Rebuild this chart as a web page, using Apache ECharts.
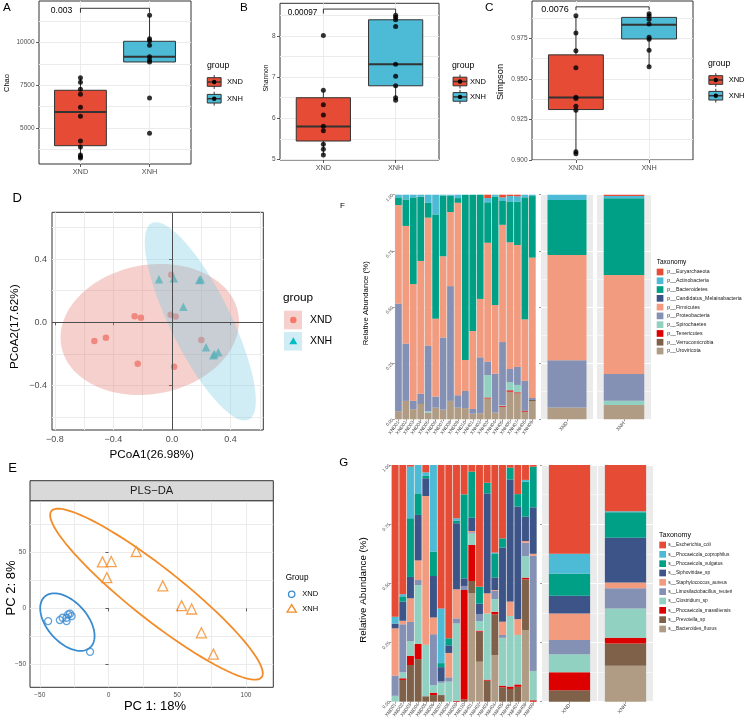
<!DOCTYPE html>
<html><head><meta charset="utf-8">
<script src="https://cdn.jsdelivr.net/npm/echarts@6/dist/echarts.min.js"></script>
<style>html,body{margin:0;padding:0;background:#fff}#c{width:744px;height:721px}</style>
</head><body><div id="c"></div>
<script>
const FONT = "'Liberation Sans', Arial, sans-serif";

// ---------------- A / B / C : alpha diversity ----------------
const GROUPS = ['XND', 'XNH'];
const GROUP_POS = [1, 2];
const GROUP_FILL = ['#E64B35', '#4DBBD5'];

const chaoPtsXND = [7949, 7679, 7269, 6976, 6214, 5687, 4240, 3888, 3419, 3320, 3243];
const chaoPtsXNH = [11605, 10234, 10117, 9848, 9180, 8986, 8869, 6760, 4690];
const chaoBoxXND = [3243, 3964, 5939, 7211, 7949];   // min, Q1, median, Q3, max
const chaoBoxXNH = [8869, 8869, 9180, 10082, 11605];
const chaoBracket = [11758, 12016];
const chaoTicks = [5000, 7500, 10000];
const chaoGridVals = [3750, 5000, 6250, 7500, 8750, 10000, 11250];

const shanPtsXND = [8.01, 6.68, 6.33, 6.08, 5.81, 5.70, 5.37, 5.25, 5.11];
const shanPtsXNH = [8.50, 8.45, 8.39, 8.23, 7.31, 7.02, 6.79, 6.50, 6.44];
const shanBoxXND = [5.11, 5.45, 5.80, 6.50, 6.68];
const shanBoxXNH = [6.44, 6.79, 7.31, 8.39, 8.50];
const shanBracket = [8.54, 8.65];
const shanTicks = [5, 6, 7, 8];
const shanGridVals = [5, 5.5, 6, 6.5, 7, 7.5, 8, 8.5];

const simpPtsXND = [0.9889, 0.9783, 0.9674, 0.9568, 0.9387, 0.9379, 0.9332, 0.9307, 0.9051, 0.9039];
const simpPtsXNH = [0.9902, 0.9887, 0.9867, 0.9838, 0.9756, 0.9744, 0.9676, 0.9574];
const simpBoxXND = [0.9039, 0.9311, 0.9385, 0.9648, 0.9889];
const simpBoxXNH = [0.9574, 0.9746, 0.9834, 0.9879, 0.9902];
const simpBracket = [0.9924, 0.9944];
const simpTicks = [0.900, 0.925, 0.950, 0.975];
const simpGridVals = [0.900, 0.9125, 0.925, 0.9375, 0.950, 0.9625, 0.975, 0.9875];

// ---------------- D : PCoA ----------------
const pcoaXND = [[-0.005, 0.302], [-0.255, 0.038], [-0.212, 0.029], [-0.530, -0.119], [-0.451, -0.098],
  [-0.234, -0.263], [0.014, -0.282], [-0.009, 0.048], [0.025, 0.036], [0.200, -0.112]];
const pcoaXNH = [[-0.089, 0.273], [0.012, 0.279], [0.186, 0.269], [0.196, 0.273], [0.077, 0.099],
  [0.232, -0.159], [0.289, -0.201], [0.316, -0.190], [0.282, -0.210]];
// ellipse: centre x, centre y, first semi-axis (dx, dy), second semi-axis (dx, dy)
const ellipseD_XND = [-0.152, -0.046, 0.603, 0.107, -0.084, 0.402];
const ellipseD_XNH = [0.193, 0.006, 0.330, -0.624, 0.186, 0.083];
const pcoaXTicks = [-0.8, -0.4, 0, 0.4];
const pcoaXGrid = [-0.8, -0.6, -0.4, -0.2, 0, 0.2, 0.4, 0.6];
const pcoaYTicks = [-0.4, 0, 0.4];
const pcoaYGrid = [-0.6, -0.4, -0.2, 0, 0.2, 0.4, 0.6];

// ---------------- E : PLS-DA ----------------
const plsXND = [[-43.9, -11.4], [-35.4, -10.5], [-33.4, -8.4], [-30.5, -8.4], [-29.3, -5.4], [-28.0, -4.8],
  [-26.8, -6.9], [-30.5, -11.4], [-13.4, -38.9]];
const plsXNH = [[-4.4, 41.6], [2.0, 41.9], [20.2, 50.9], [-1.2, 27.5], [39.5, 20.1], [53.2, 2.4],
  [60.5, -0.6], [67.6, -21.9], [76.3, -41.0]];
const ellipseE_XND = [-29.9, -12.3, 16.5, -22.8, 10.9, 12.0];
const ellipseE_XNH = [34.9, 12.7, 76.5, -74.4, 11.6, 18.1];
const plsXTicks = [-50, 0, 50, 100];
const plsXGrid = [-50, -25, 0, 25, 50, 75, 100];
const plsYTicks = [-50, 0, 50];
const plsYGrid = [-50, -25, 0, 25, 50, 75];

// ---------------- F / G : relative abundance ----------------
const SAMPLES = ['XND01','XND02','XND03','XND04','XND05','XND06','XND07','XND08','XND09','XND10',
  'XNH01','XNH02','XNH03','XNH04','XNH05','XNH06','XNH07','XNH08','XNH09'];
const TAXA_COLORS = ['#E64B35','#4DBBD5','#00A087','#3C5488','#F39B7F','#8491B4','#91D1C2','#DC0000','#7E6148','#B09C85'];
const F_TAXA = ['p__Euryarchaeota','p__Actinobacteria','p__Bacteroidetes','p__Candidatus_Melainabacteria',
  'p__Firmicutes','p__Proteobacteria','p__Spirochaetes','p__Tenericutes','p__Verrucomicrobia','p__Uroviricota'];
const fEuryarchaeota = [0,0,0,0,0,0,0,0,0,0,0,0,.015,0,.012,.006,.007,0,0];
const fActinobacteria = [.012,.021,.012,.009,.036,.088,.004,.004,.015,0,0,0,.019,.009,.016,.024,.024,.012,.006];
const fBacteroidetes = [.034,.118,.386,.286,.066,.464,.270,.073,.021,.736,.607,.464,.180,.482,.106,.182,.193,.543,.274];
const fCandidatus = [0,0,0,0,0,0,0,0,0,0,0,0,0,0,0,0,0,0,0];
const fFirmicutes = [.439,.524,.520,.591,.570,.347,.362,.330,.857,.138,.347,.260,.529,.306,.522,.564,.543,.274,.625];
const fProteobacteria = [.479,.255,.037,.043,.292,.049,.321,.511,.055,.076,.021,.249,.060,.173,.281,.059,.080,.133,.009];
const fSpirochaetes = [0,0,0,0,.006,0,0,0,0,0,0,0,.100,0,.003,.036,.033,0,0];
const fTenericutes = [0,0,0,0,0,0,0,0,0,0,0,0,.004,0,.004,.006,.004,.004,0];
const fVerrucomicrobia = [0,0,0,.004,0,0,0,0,0,0,0,0,0,0,0,0,0,0,.006];
const fUroviricota = [.036,.082,.045,.067,.030,.052,.043,.082,.052,.050,.025,.027,.093,.030,.056,.123,.116,.034,.080];
const F_SAMPLE_ROWS = [fEuryarchaeota,fActinobacteria,fBacteroidetes,fCandidatus,fFirmicutes,fProteobacteria,
  fSpirochaetes,fTenericutes,fVerrucomicrobia,fUroviricota];
const fGroupXND = [0,.024,.245,0,.468,.211,0,0,0,.052];
const fGroupXNH = [.006,.010,.342,0,.440,.119,.019,0,0,.064];

const G_TAXA = ['s__Escherichia_coli','s__Phocaeicola_coprophilus','s__Phocaeicola_vulgatus','s__Siphoviridae_sp',
  's__Staphylococcus_aureus','s__Limosilactobacillus_reuteri','s__Clostridium_sp','s__Phocaeicola_massiliensis',
  's__Prevotella_sp','s__Bacteroides_fluxus'];
const gEcoli = [.641,.546,.007,0,.031,0,.606,.732,.225,.124,.028,.514,.075,.370,.310,.011,.123,.063,.007];
const gCoprophilus = [.029,.009,.218,.120,.015,.366,.231,0,.010,0,0,0,0,.006,0,0,0,.007,0];
const gVulgatus = [0,.022,.248,.091,.010,.103,.017,.030,.011,.355,.195,.072,.045,.099,.039,.050,.053,.148,.172];
const gSiphoviridae = [.020,.081,.090,.192,.075,.175,.059,.032,.279,.032,.056,.044,.422,.053,.313,.516,.475,.103,.196];
const gStaphylococcus = [.200,.015,.100,.083,.628,.071,0,.103,.123,0,.005,0,.085,.004,.056,.061,.067,.007,.008];
const gLimosilactobacillus = [.085,.203,.081,.021,0,.215,.007,.018,.021,.017,.005,.029,0,.034,.012,0,0,.057,.487];
const gClostridium = [.025,.025,.063,.249,.218,.032,.052,.085,.327,0,.049,.041,.280,.054,.202,.298,.209,.091,.124];
const gMassiliensis = [0,.007,.038,.064,0,.010,0,0,.004,.462,.152,.004,.004,.011,.007,.010,.010,.007,.006];
const gPrevotella = [0,.092,.155,.180,.023,.028,.028,0,0,.010,.052,.127,.089,.172,.061,.054,.063,.214,0];
const gFluxus = [0,0,0,0,0,0,0,0,0,0,.458,.169,0,.197,0,0,0,.303,0];
const G_SAMPLE_ROWS = [gEcoli,gCoprophilus,gVulgatus,gSiphoviridae,gStaphylococcus,gLimosilactobacillus,
  gClostridium,gMassiliensis,gPrevotella,gFluxus];
const gGroupXND = [.375,.084,.093,.075,.112,.061,.076,.076,.048,0];
const gGroupXNH = [.195,.005,.107,.189,.025,.085,.124,.024,.094,.152];
const REL_TICKS_INTERVAL = 0.25;

// ================= build =================
const grids = [
  {left:39, top:1, width:152, height:163},
  {left:280, top:3.3, width:159, height:156.7},
  {left:532, top:1, width:161, height:159},
  {left:52, top:212.3, width:211.3, height:217.7},
  {left:30, top:500.7, width:243.3, height:186.6},
  {left:394.7, top:194.7, width:141.3, height:224.6},
  {left:541, top:194.7, width:52, height:224.6},
  {left:597, top:194.7, width:54, height:224.6},
  {left:391.3, top:465, width:145.7, height:236.7},
  {left:542, top:465, width:55, height:236.7},
  {left:598, top:465, width:55, height:236.7}
].map((g, i) => Object.assign({show:true, containLabel:false}, g,
  i < 5 ? {backgroundColor:'#fff', borderColor:'#333', borderWidth:1}
        : {backgroundColor:'#EBEBEB', borderWidth:0}));

const xAxes = [], yAxes = [], series = [], graphics = [];

function valueAxes(list, gridIndex, dim, min, max, gridVals, labelVals, labelOpt) {
  const pos = dim === 'x' ? 'bottom' : 'left';
  const idx = list.length;
  list.push({type:'value', gridIndex, position:pos, min, max, axisLine:{show:false},
    axisTick:{show:false, customValues:gridVals}, axisLabel:{show:false},
    splitLine:{show:true, lineStyle:{color:'#EBEBEB', width:1}}});
  list.push({type:'value', gridIndex, position:pos, min, max, axisLine:{show:false},
    axisTick:{show:true, customValues:labelVals, length:3, lineStyle:{color:'#333', width:0.8}},
    axisLabel:Object.assign({customValues:labelVals, color:'#4D4D4D', fontFamily:FONT, fontSize:6.5, margin:4.5}, labelOpt || {}),
    splitLine:{show:false}});
  return idx;
}
const groupFmt = v => GROUPS[Math.round(v) - 1];
const minusFmt = d => v => (v < 0 ? '\u2212' : '') + Math.abs(v).toFixed(d);

function boxRender(params, api) {
  const x = api.value(0), mn = api.value(1), q1 = api.value(2), md = api.value(3), q3 = api.value(4), mx = api.value(5);
  const h = 0.375;
  const a = api.coord([x - h, q3]), b = api.coord([x + h, q1]);
  const t = api.coord([x, mx]), bt = api.coord([x, mn]), p3 = api.coord([x, q3]), p1 = api.coord([x, q1]);
  const ml = api.coord([x - h, md]), mr = api.coord([x + h, md]);
  const st = {stroke:'#333', lineWidth:1};
  return {type:'group', children:[
    {type:'line', shape:{x1:t[0], y1:t[1], x2:p3[0], y2:p3[1]}, style:st},
    {type:'line', shape:{x1:bt[0], y1:bt[1], x2:p1[0], y2:p1[1]}, style:st},
    {type:'rect', shape:{x:a[0], y:a[1], width:b[0]-a[0], height:b[1]-a[1]},
      style:{fill:GROUP_FILL[params.dataIndex], stroke:'#333', lineWidth:1}},
    {type:'line', shape:{x1:ml[0], y1:ml[1], x2:mr[0], y2:mr[1]}, style:{stroke:'#333', lineWidth:2}}
  ]};
}

function addBoxPanel(gi, ymin, ymax, gridVals, ticks, yFmt, boxXND, boxXNH, ptsXND, ptsXNH, bracket) {
  const ax = valueAxes(xAxes, gi, 'x', 0.4, 2.6, GROUP_POS, GROUP_POS, {formatter:groupFmt, fontSize:7.3, margin:4.5});
  const ay = valueAxes(yAxes, gi, 'y', ymin, ymax, gridVals, ticks, {formatter:yFmt, fontSize:6.5});
  series.push({type:'custom', xAxisIndex:ax, yAxisIndex:ay, renderItem:boxRender, encode:{x:0, y:[1,2,3,4,5]},
    data:[[GROUP_POS[0]].concat(boxXND), [GROUP_POS[1]].concat(boxXNH)], z:2, silent:true});
  series.push({type:'scatter', xAxisIndex:ax, yAxisIndex:ay, symbol:'circle', symbolSize:5, itemStyle:{color:'#000'},
    data:ptsXND.map(v => [GROUP_POS[0], v]).concat(ptsXNH.map(v => [GROUP_POS[1], v])), z:3, silent:true});
  series.push({type:'line', xAxisIndex:ax, yAxisIndex:ay, symbol:'none', lineStyle:{color:'#000', width:0.8},
    data:[[GROUP_POS[0], bracket[0]], [GROUP_POS[0], bracket[1]], [GROUP_POS[1], bracket[1]], [GROUP_POS[1], bracket[0]]],
    z:3, silent:true});
}
addBoxPanel(0, 2890, 12443, chaoGridVals, chaoTicks, v => String(v), chaoBoxXND, chaoBoxXNH, chaoPtsXND, chaoPtsXNH, chaoBracket);
addBoxPanel(1, 4.99, 8.79, shanGridVals, shanTicks, v => String(v), shanBoxXND, shanBoxXNH, shanPtsXND, shanPtsXNH, shanBracket);
addBoxPanel(2, 0.900, 0.998, simpGridVals, simpTicks, v => v.toFixed(3), simpBoxXND, simpBoxXNH, simpPtsXND, simpPtsXNH, simpBracket);

const ELLIPSE_STEPS = 90;
function ellipseRender(fill, stroke, lw) {
  return function (params, api) {
    const cx = api.value(0), cy = api.value(1), ux = api.value(2), uy = api.value(3), vx = api.value(4), vy = api.value(5);
    const pts = [];
    for (let i = 0; i <= ELLIPSE_STEPS; i++) {
      const t = i / ELLIPSE_STEPS * 2 * Math.PI;
      pts.push(api.coord([cx + ux * Math.cos(t) + vx * Math.sin(t), cy + uy * Math.cos(t) + vy * Math.sin(t)]));
    }
    return {type:'polygon', shape:{points:pts}, style:{fill:fill, stroke:stroke, lineWidth:lw}};
  };
}

// D
const axD = valueAxes(xAxes, 3, 'x', -0.819, 0.623, pcoaXGrid, pcoaXTicks, {formatter:minusFmt(1), fontSize:9, margin:5});
const ayD = valueAxes(yAxes, 3, 'y', -0.684, 0.698, pcoaYGrid, pcoaYTicks, {formatter:minusFmt(1), fontSize:9, margin:5});
const D_FILL = ['rgba(226,120,110,0.35)', 'rgba(120,200,225,0.35)'];
series.push({type:'scatter', xAxisIndex:axD, yAxisIndex:ayD, symbol:'circle', symbolSize:6.5, itemStyle:{color:'#F8766D'},
  data:pcoaXND, z:2, silent:true,
  markLine:{silent:true, symbol:'none', label:{show:false}, lineStyle:{color:'#4D4D4D', width:1, type:'solid'},
    data:[{xAxis:0}, {yAxis:0}]}});
series.push({type:'scatter', xAxisIndex:axD, yAxisIndex:ayD, symbol:'triangle', symbolSize:8.5, itemStyle:{color:'#00BFC4'},
  data:pcoaXNH, z:2, silent:true});
series.push({type:'custom', xAxisIndex:axD, yAxisIndex:ayD, renderItem:ellipseRender(D_FILL[0], 'none', 0),
  encode:{x:0, y:1}, data:[ellipseD_XND], z:3, silent:true});
series.push({type:'custom', xAxisIndex:axD, yAxisIndex:ayD, renderItem:ellipseRender(D_FILL[1], 'none', 0),
  encode:{x:0, y:1}, data:[ellipseD_XNH], z:3, silent:true});

// E
const E_COL = ['#3A8CD0', '#F28C28'];
const axE = valueAxes(xAxes, 4, 'x', -57.1, 119.9, plsXGrid, plsXTicks, {formatter:minusFmt(0), fontSize:6.5, margin:4});
const ayE = valueAxes(yAxes, 4, 'y', -70.7, 96.4, plsYGrid, plsYTicks, {formatter:minusFmt(0), fontSize:6.5, margin:4});
series.push({type:'custom', xAxisIndex:axE, yAxisIndex:ayE, renderItem:ellipseRender('none', E_COL[0], 1.8),
  encode:{x:0, y:1}, data:[ellipseE_XND], z:2, silent:true});
series.push({type:'custom', xAxisIndex:axE, yAxisIndex:ayE, renderItem:ellipseRender('none', E_COL[1], 1.8),
  encode:{x:0, y:1}, data:[ellipseE_XNH], z:2, silent:true});
series.push({type:'scatter', xAxisIndex:axE, yAxisIndex:ayE, symbol:'circle', symbolSize:7,
  itemStyle:{color:'rgba(0,0,0,0)', borderColor:E_COL[0], borderWidth:1.3}, data:plsXND, z:3, silent:true});
series.push({type:'scatter', xAxisIndex:axE, yAxisIndex:ayE, symbol:'triangle', symbolSize:10,
  itemStyle:{color:'rgba(0,0,0,0)', borderColor:E_COL[1], borderWidth:1.3}, data:plsXNH, z:3, silent:true});

// F / G
function catAxis(gi, cats, labelOpt, tick) {
  xAxes.push({type:'category', gridIndex:gi, data:cats, axisLine:{show:false},
    axisTick:{show:tick !== false, alignWithLabel:true, length:2, lineStyle:{color:'#333', width:0.5}},
    axisLabel:Object.assign({interval:0, rotate:55, fontSize:4.8, margin:2, color:'#4D4D4D', fontFamily:FONT}, labelOpt || {}),
    splitLine:{show:false}});
  return xAxes.length - 1;
}
function relAxis(gi, labels, ticks) {
  yAxes.push({type:'value', gridIndex:gi, min:0, max:1, interval:REL_TICKS_INTERVAL, axisLine:{show:false},
    axisTick:{show:ticks, length:2, lineStyle:{color:'#333', width:0.5}},
    axisLabel:{show:labels, rotate:45, fontSize:4.5, margin:2, color:'#4D4D4D', fontFamily:FONT, formatter:v => v.toFixed(2)},
    splitLine:{show:true, lineStyle:{color:'#fff', width:1}},
    minorTick:{show:false, splitNumber:2}, minorSplitLine:{show:true, lineStyle:{color:'#fff', width:0.5}}});
  return yAxes.length - 1;
}
function addStacks(rows, ax, ay, stackName, opts) {
  for (let k = rows.length - 1; k >= 0; k--) {
    series.push(Object.assign({type:'bar', xAxisIndex:ax, yAxisIndex:ay, stack:stackName, data:rows[k],
      itemStyle:{color:TAXA_COLORS[k]}, silent:true, z:2}, opts));
  }
}
function addAbundancePanel(g0, rows, grpXND, grpXNH, key) {
  const ax = catAxis(g0, SAMPLES), ay = relAxis(g0, true, true);
  addStacks(rows, ax, ay, key, {barCategoryGap:'10%'});
  const ax1 = catAxis(g0 + 1, [GROUPS[0]], {rotate:50, fontSize:5, margin:3}), ay1 = relAxis(g0 + 1, false, true);
  addStacks(grpXND.map(v => [v]), ax1, ay1, key + 'X', {barWidth:'75%'});
  const ax2 = catAxis(g0 + 2, [GROUPS[1]], {rotate:50, fontSize:5, margin:3}), ay2 = relAxis(g0 + 2, false, false);
  addStacks(grpXNH.map(v => [v]), ax2, ay2, key + 'H', {barWidth:'75%'});
}
addAbundancePanel(5, F_SAMPLE_ROWS, fGroupXND, fGroupXNH, 'F');
addAbundancePanel(8, G_SAMPLE_ROWS, gGroupXND, gGroupXNH, 'G');

// ---------------- text / legends ----------------
function T(text, x, y, size, opt) {
  opt = opt || {};
  return {type:'text', x, y, rotation:opt.rot || 0, silent:true, z:100,
    style:{text, fontSize:size, fontFamily:FONT, fill:opt.color || '#000',
      align:opt.align || 'left', textAlign:opt.align || 'left', verticalAlign:'middle', textVerticalAlign:'middle'}};
}
const R90 = Math.PI / 2;
// panel letters
graphics.push(T('A', 3, 7.5, 11.7), T('B', 240, 7.5, 11.7), T('C', 485, 7.5, 11.7), T('D', 12.5, 198.7, 13),
  T('E', 8.3, 468, 13), T('F', 340, 205.5, 8), T('G', 339.3, 463.2, 11.5));
// axis titles
graphics.push(T('Chao', 6.5, 83, 7.5, {rot:R90, align:'center'}), T('Shannon', 266.5, 78, 6.8, {rot:R90, align:'center'}),
  T('Simpson', 500.3, 82, 9.3, {rot:R90, align:'center'}));
graphics.push(T('PCoA1(26.98%)', 151.7, 455, 11.7, {align:'center'}), T('PCoA2(17.62%)', 15, 326.7, 11.7, {rot:R90, align:'center'}));
graphics.push(T('PC 1: 18%', 155, 706.7, 13, {align:'center'}), T('PC 2: 8%', 11.7, 588, 13, {rot:R90, align:'center'}));
graphics.push(T('Relative Abundance (%)', 366, 303.3, 7.8, {rot:R90, align:'center'}),
  T('Relative Abundance (%)', 363.3, 590, 9.8, {rot:R90, align:'center'}));
// p-values
graphics.push(T('0.003', 61.5, 11, 8.6, {align:'center'}), T('0.00097', 302.5, 12.3, 8.2, {align:'center'}),
  T('0.0076', 555, 9.3, 9, {align:'center'}));

// boxplot legends
function boxKey(cx, cy, color) {
  const s = 17.3;
  return [
    {type:'line', shape:{x1:cx, y1:cy - 0.4 * s, x2:cx, y2:cy + 0.4 * s}, style:{stroke:'#333', lineWidth:1}, z:100},
    {type:'rect', shape:{x:cx - 0.4 * s, y:cy - 0.25 * s, width:0.8 * s, height:0.5 * s}, style:{fill:color, stroke:'#333', lineWidth:1}, z:101},
    {type:'line', shape:{x1:cx - 0.4 * s, y1:cy, x2:cx + 0.4 * s, y2:cy}, style:{stroke:'#333', lineWidth:1.5}, z:102},
    {type:'circle', shape:{cx, cy, r:2.2}, style:{fill:'#000'}, z:103}
  ];
}
[[207, 66, 214.2, [82, 98.7], 227], [452, 65.7, 460, [81.5, 96.9], 470], [708, 63.3, 715.8, [80, 95.7], 728.7]].forEach(L => {
  graphics.push(T('group', L[0], L[1], 8.7));
  for (let i = 0; i < 2; i++) {
    graphics.push(...boxKey(L[2], L[3][i], GROUP_FILL[i]));
    graphics.push(T(GROUPS[i], L[4], L[3][i], 7.5));
  }
});

// D legend
graphics.push(T('group', 283, 298, 11.8));
graphics.push({type:'rect', shape:{x:284, y:310.7, width:18, height:18.6}, style:{fill:D_FILL[0]}, z:100});
graphics.push({type:'circle', shape:{cx:293.3, cy:320, r:3.2}, style:{fill:'#F8766D'}, z:101});
graphics.push({type:'rect', shape:{x:284, y:332, width:18, height:18.6}, style:{fill:D_FILL[1]}, z:100});
graphics.push({type:'polygon', shape:{points:[[293.3, 337.3], [289.3, 344.3], [297.3, 344.3]]}, style:{fill:'#00BFC4'}, z:101});
graphics.push(T('XND', 310, 320, 10.5), T('XNH', 310, 341.3, 10.5));

// E strip + legend
graphics.push({type:'rect', shape:{x:30, y:480.7, width:243.3, height:20}, style:{fill:'#D9D9D9', stroke:'#333', lineWidth:1}, z:100});
graphics.push(T('PLS\u2212DA', 151.7, 490.7, 11.2, {align:'center', color:'#1A1A1A'}));
graphics.push(T('Group', 285.7, 577.7, 8.2));
graphics.push({type:'circle', shape:{cx:291.7, cy:594.3, r:3.2}, style:{fill:'none', stroke:E_COL[0], lineWidth:1.3}, z:100});
graphics.push({type:'polygon', shape:{points:[[291.7, 604.6], [287.1, 612.2], [296.3, 612.2]]}, style:{fill:'none', stroke:E_COL[1], lineWidth:1.3}, z:100});
graphics.push(T('XND', 302.3, 594.3, 7.5), T('XNH', 302.3, 608.7, 7.5));

// taxonomy legends
function taxLegend(names, titleX, titleY, titleSize, keyX, y0, step, key, textX, textSize) {
  graphics.push(T('Taxonomy', titleX, titleY, titleSize));
  names.forEach((n, i) => {
    const y = y0 + i * step;
    graphics.push({type:'rect', shape:{x:keyX, y:y - key / 2, width:key, height:key}, style:{fill:TAXA_COLORS[i]}, z:100});
    graphics.push(T(n, textX, y, textSize, {color:'#1A1A1A'}));
  });
}
taxLegend(F_TAXA, 656.7, 262, 6.5, 656.7, 272, 8.78, 6.7, 667.3, 5.2);
taxLegend(G_TAXA, 659, 535, 7, 659.3, 545, 9.33, 6.7, 668.3, 4.8);

const chart = echarts.init(document.getElementById('c'), null, {renderer:'canvas'});
chart.setOption({
  animation:false,
  backgroundColor:'#fff',
  textStyle:{fontFamily:FONT},
  grid:grids, xAxis:xAxes, yAxis:yAxes, series, graphic:graphics
});
</script></body></html>
